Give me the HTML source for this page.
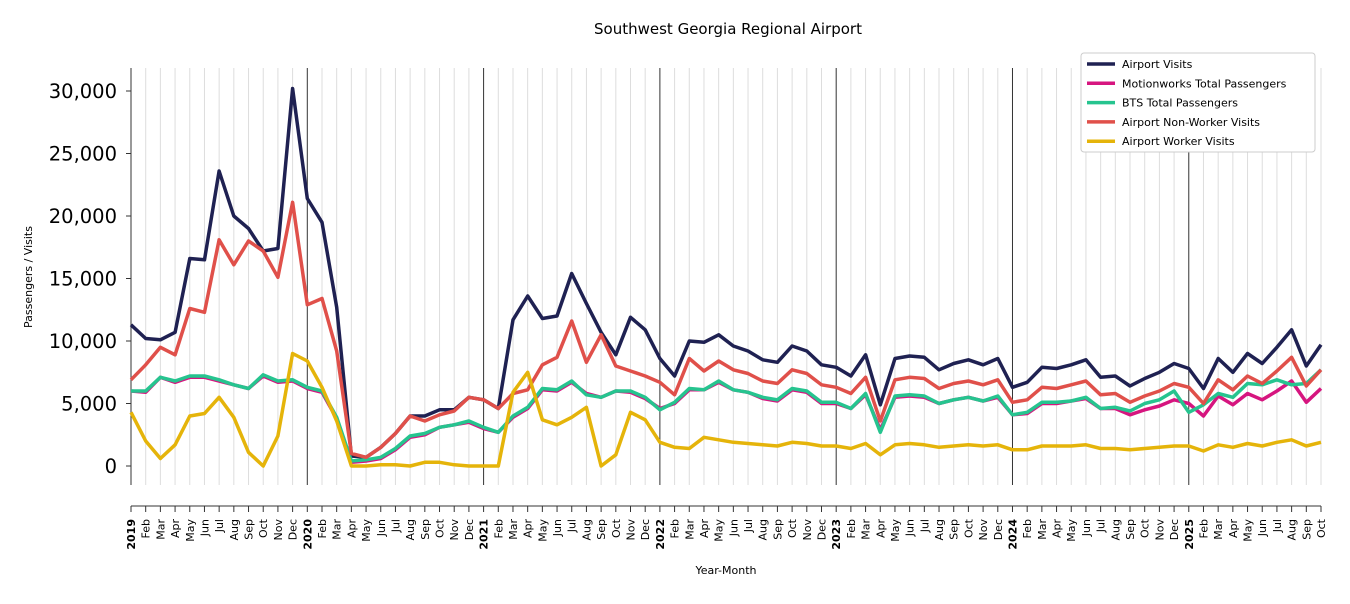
<!DOCTYPE html>
<html><head><meta charset="utf-8"><style>
body{margin:0;background:#fff;font-family:"DejaVu Sans","Liberation Sans",sans-serif}
svg text{font-family:"DejaVu Sans","Liberation Sans",sans-serif}
</style></head><body>
<svg id="chart" width="1350" height="600" xmlns="http://www.w3.org/2000/svg">
<text x="728" y="34" font-size="15" text-anchor="middle">Southwest Georgia Regional Airport</text>
<text transform="translate(32,277) rotate(-90)" font-size="11" text-anchor="middle">Passengers / Visits</text>
<text x="726" y="574" font-size="11" text-anchor="middle">Year-Month</text>
<g id="grid"></g><g id="axes"></g><g id="series"></g><g id="legend"></g>
</svg>
<script>
const monthNames=["Jan","Feb","Mar","Apr","May","Jun","Jul","Aug","Sep","Oct","Nov","Dec"];
const startYear=2019;
const nMonths=82;
const yTicks=[0,5000,10000,15000,20000,25000,30000];
const airportVisits=[11.3,10.2,10.1,10.7,16.6,16.5,23.6,20.0,19.0,17.2,17.4,30.2,
21.4,19.5,12.7,0.8,0.7,1.5,2.6,4.0,4.0,4.5,4.5,5.5,
5.3,4.6,11.7,13.6,11.8,12.0,15.4,13.0,10.7,8.9,11.9,10.9,
8.6,7.2,10.0,9.9,10.5,9.6,9.2,8.5,8.3,9.6,9.2,8.1,
7.9,7.2,8.9,4.9,8.6,8.8,8.7,7.7,8.2,8.5,8.1,8.6,
6.3,6.7,7.9,7.8,8.1,8.5,7.1,7.2,6.4,7.0,7.5,8.2,
7.8,6.2,8.6,7.5,9.0,8.2,9.5,10.9,8.0,9.7];
const motionworks=[6.0,5.9,7.1,6.7,7.1,7.1,6.8,6.5,6.2,7.2,6.7,6.8,
6.2,5.9,3.8,0.3,0.4,0.6,1.3,2.3,2.5,3.1,3.3,3.5,
3.0,2.7,3.9,4.6,6.1,6.0,6.7,5.8,5.5,6.0,5.9,5.4,
4.6,5.0,6.1,6.1,6.7,6.1,5.9,5.4,5.2,6.1,5.9,5.0,
5.0,4.6,5.7,2.9,5.5,5.6,5.5,5.0,5.3,5.5,5.2,5.5,
4.1,4.2,5.0,5.0,5.2,5.4,4.6,4.6,4.1,4.5,4.8,5.3,
5.0,4.0,5.6,4.9,5.8,5.3,6.0,6.8,5.1,6.2];
const btsTotal=[6.0,6.0,7.1,6.8,7.2,7.2,6.9,6.5,6.2,7.3,6.8,6.9,
6.3,6.0,3.9,0.4,0.5,0.7,1.4,2.4,2.6,3.1,3.3,3.6,
3.1,2.7,4.0,4.7,6.2,6.1,6.8,5.7,5.5,6.0,6.0,5.5,
4.5,5.1,6.2,6.1,6.8,6.1,5.9,5.5,5.3,6.2,6.0,5.1,
5.1,4.6,5.8,2.7,5.6,5.7,5.6,5.0,5.3,5.5,5.2,5.6,
4.1,4.3,5.1,5.1,5.2,5.5,4.6,4.7,4.4,5.0,5.3,6.0,
4.3,4.9,5.8,5.5,6.6,6.5,6.9,6.5,6.6,7.7];
const nonWorker=[6.9,8.1,9.5,8.9,12.6,12.3,18.1,16.1,18.0,17.2,15.1,21.1,
12.9,13.4,9.2,1.0,0.7,1.5,2.6,4.0,3.6,4.1,4.4,5.5,
5.3,4.6,5.8,6.1,8.1,8.7,11.6,8.3,10.5,8.0,7.6,7.2,
6.7,5.7,8.6,7.6,8.4,7.7,7.4,6.8,6.6,7.7,7.4,6.5,
6.3,5.8,7.1,3.6,6.9,7.1,7.0,6.2,6.6,6.8,6.5,6.9,
5.1,5.3,6.3,6.2,6.5,6.8,5.7,5.8,5.1,5.6,6.0,6.6,
6.3,5.0,6.9,6.1,7.2,6.6,7.6,8.7,6.4,7.7];
const worker=[4.3,2.0,0.6,1.7,4.0,4.2,5.5,3.9,1.1,0.0,2.4,9.0,
8.4,6.3,3.6,0.0,0.0,0.1,0.1,0.0,0.3,0.3,0.1,0.0,
0.0,0.0,5.9,7.5,3.7,3.3,3.9,4.7,0.0,0.9,4.3,3.7,
1.9,1.5,1.4,2.3,2.1,1.9,1.8,1.7,1.6,1.9,1.8,1.6,
1.6,1.4,1.8,0.9,1.7,1.8,1.7,1.5,1.6,1.7,1.6,1.7,
1.3,1.3,1.6,1.6,1.6,1.7,1.4,1.4,1.3,1.4,1.5,1.6,
1.6,1.2,1.7,1.5,1.8,1.6,1.9,2.1,1.6,1.9];
const seriesNames=["Airport Visits","Motionworks Total Passengers","BTS Total Passengers","Airport Non-Worker Visits","Airport Worker Visits"];
const seriesColors=["#1f2152","#d6157f","#26c48f","#e0504a","#e5b40a"];
const seriesData=[airportVisits,motionworks,btsTotal,nonWorker,worker];

const NS="http://www.w3.org/2000/svg";
const X0=131,X1=1321,Y0=466,Yscale=12.5/1000;
const xs=i=>X0+i*(X1-X0)/(nMonths-1);
const ys=v=>Y0-v*Yscale;
function mk(tag,attrs,parent){const e=document.createElementNS(NS,tag);for(const k in attrs)e.setAttribute(k,attrs[k]);parent.appendChild(e);return e;}
const grid=document.getElementById('grid'),axes=document.getElementById('axes'),ser=document.getElementById('series'),leg=document.getElementById('legend');
for(let i=0;i<nMonths;i++){
  const x=xs(i),isYear=i%12===0;
  const gl=mk('line',{x1:x,x2:x,y1:68,y2:485,stroke:isYear?'#333':'#ddd','stroke-width':1},grid);
  
  
  const tk=mk('line',{x1:x,x2:x,y1:506,y2:512,stroke:'#333'},axes);
  
  
  const lab=isYear?String(startYear+i/12):monthNames[i%12];
  const t=mk('text',{transform:`translate(${x+4},519) rotate(-90)`,'font-size':11,'text-anchor':'end','font-weight':isYear?'bold':'normal'},axes);
  t.textContent=lab;
  
  
}
const ls=mk('line',{x1:X0,x2:X0,y1:68,y2:485,stroke:'#333'},axes);


const bs=mk('line',{x1:X0,x2:X1,y1:506,y2:506,stroke:'#333'},axes);


yTicks.forEach(v=>{
  const y=ys(v);
  const tk=mk('line',{x1:X0-5,x2:X0,y1:y,y2:y,stroke:'#333'},axes);
  
  
  const t=mk('text',{x:X0-14,y:y+7,'font-size':19.5,'text-anchor':'end'},axes);
  t.textContent=v.toLocaleString('en-US');
  
  
});
seriesData.forEach((d,s)=>{
  const pts=d.map((v,i)=>xs(i).toFixed(1)+','+ys(v*1000).toFixed(1)).join(' ');
  const p=mk('polyline',{points:pts,fill:'none',stroke:seriesColors[s],'stroke-width':3.5,'stroke-linejoin':'round'},ser);
  
  
});
const lb=mk('rect',{x:1081,y:53,width:234,height:99,rx:3,fill:'#fff',stroke:'#ccc'},leg);


seriesNames.forEach((n,s)=>{
  const y=64+s*19.3;
  const l=mk('line',{x1:1087,x2:1115,y1:y,y2:y,stroke:seriesColors[s],'stroke-width':3.5},leg);
  
  
  const t=mk('text',{x:1122,y:y+4,'font-size':11},leg);
  t.textContent=n;
  
  
});
</script>
</body></html>
